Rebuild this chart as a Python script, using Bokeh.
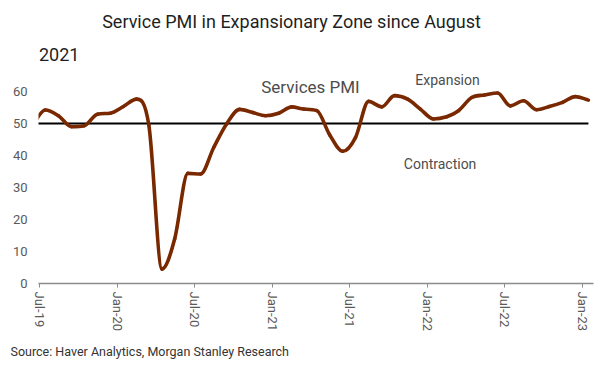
import numpy as np
import pandas as pd
from bokeh.plotting import figure
from bokeh.models import Title, FixedTicker, Range1d, Label
from bokeh.embed import file_html
from bokeh.resources import INLINE

# ---- data ----
months = pd.date_range("2019-06-01", periods=44, freq="MS") + pd.Timedelta(days=14)
pmi = [49.6, 54.2, 52.4, 49.0, 49.3, 52.9, 53.2, 55.3, 57.6, 49.5, 4.5, 14.0,
       34.4, 34.2, 42.5, 50.0, 54.4, 53.4, 52.4, 53.2, 55.2, 54.5, 54.0, 46.5,
       41.3, 45.6, 56.9, 55.2, 58.7, 57.6, 54.5, 51.4, 52.1, 54.0, 58.1, 58.9,
       59.5, 55.5, 57.1, 54.3, 55.3, 56.6, 58.4, 57.3]
threshold = 50
tick_dates = ["2019-07-01", "2020-01-01", "2020-07-01", "2021-01-01",
              "2021-07-01", "2022-01-01", "2022-07-01", "2023-01-01"]
tick_labels = ["Jul-19", "Jan-20", "Jul-20", "Jan-21", "Jul-21", "Jan-22", "Jul-22", "Jan-23"]
y_ticks = [0, 10, 20, 30, 40, 50, 60]

FONT = "Roboto"

x = months.values.astype("datetime64[ms]").astype(np.int64).astype(float)
y = np.array(pmi, dtype=float)

# Smooth (monotone cubic, Fritsch-Carlson) rendering as bezier segments through the points
d = np.diff(y)
m = np.zeros_like(y)
m[0], m[-1] = d[0], d[-1]
for k in range(1, len(y) - 1):
    if d[k - 1] * d[k] > 0:
        m[k] = (d[k - 1] + d[k]) / 2.0
for k in range(len(d)):
    if d[k] == 0:
        m[k] = m[k + 1] = 0.0
        continue
    a, b = m[k] / d[k], m[k + 1] / d[k]
    s = a * a + b * b
    if s > 9:
        t = 3.0 / np.sqrt(s)
        m[k], m[k + 1] = t * a * d[k], t * b * d[k]
x0, y0 = x[:-1], y[:-1]
x1, y1 = x[1:], y[1:]
dx = x1 - x0
cx0, cy0 = x0 + dx / 3.0, y0 + m[:-1] / 3.0
cx1, cy1 = x1 - dx / 3.0, y1 - m[1:] / 3.0

# frame spans the chart area plus the title band above it (no outline/grid, so invisible)
p = figure(width=600, height=373, x_axis_type="datetime",
           x_range=Range1d(pd.Timestamp("2019-06-29"), pd.Timestamp("2023-01-27")),
           y_range=Range1d(0, 87.8),
           output_backend="svg", toolbar_location=None,
           min_border_left=38, min_border_right=7, min_border_top=2, min_border_bottom=90)

p.outline_line_color = None
p.xgrid.visible = False
p.ygrid.visible = False
p.background_fill_color = "white"
p.border_fill_color = "white"
p.title.visible = False

# threshold line and PMI line
p.line(x, [threshold] * len(x), line_color="black", line_width=2.2)
p.bezier(x0=x0, y0=y0, x1=x1, y1=y1, cx0=cx0, cy0=cy0, cx1=cx1, cy1=cy1,
         line_color="#7a2800", line_width=3.6, line_cap="round")

# title lines
p.add_layout(Label(x=pd.Timestamp("2019-11-26"), y=81.97,
                   text="Service PMI in Expansionary Zone since August",
                   text_font=FONT, text_font_size="18px", text_color="#1f1f1f",
                   text_align="left", text_baseline="alphabetic"))
p.add_layout(Label(x=pd.Timestamp("2019-06-30"), y=71.56, text="2021",
                   text_font=FONT, text_font_size="18px", text_color="#1f1f1f",
                   text_align="left", text_baseline="alphabetic"))

# annotations
p.add_layout(Label(x=pd.Timestamp("2020-12-05"), y=61.5, text="Services PMI",
                   text_font=FONT, text_font_size="17px", text_color="#4d4d4d",
                   text_align="left", text_baseline="alphabetic"))
p.add_layout(Label(x=pd.Timestamp("2021-12-03"), y=63.7, text="Expansion",
                   text_font=FONT, text_font_size="14px", text_color="#4d4d4d",
                   text_align="left", text_baseline="alphabetic"))
p.add_layout(Label(x=pd.Timestamp("2021-11-06"), y=37.3, text="Contraction",
                   text_font=FONT, text_font_size="14px", text_color="#4d4d4d",
                   text_align="left", text_baseline="alphabetic"))

# axes
tick_ms = [float(pd.Timestamp(t).value // 10**6) for t in tick_dates]
xa = p.xaxis[0]
xa.ticker = FixedTicker(ticks=tick_ms)
xa.major_label_overrides = {t: lab for t, lab in zip(tick_ms, tick_labels)}
xa.major_label_orientation = "vertical"
xa.major_label_text_font = FONT
xa.major_label_text_font_size = "13px"
xa.major_label_text_color = "#595959"
xa.axis_line_color = "#8c8c8c"
xa.axis_line_width = 1.3
xa.major_tick_line_color = "#8c8c8c"
xa.major_tick_out = 4
xa.major_tick_in = 0
xa.minor_tick_line_color = None
xa.major_label_standoff = 4

ya = p.yaxis[0]
ya.ticker = FixedTicker(ticks=y_ticks)
ya.axis_line_color = None
ya.major_tick_line_color = None
ya.minor_tick_line_color = None
ya.major_tick_out = 0
ya.major_tick_in = 0
ya.major_label_standoff = 11
ya.major_label_text_font = FONT
ya.major_label_text_font_size = "13px"
ya.major_label_text_color = "#595959"

p.add_layout(Title(text="Source: Haver Analytics, Morgan Stanley Research", align="left",
                   offset=-28, standoff=15, text_font=FONT, text_font_size="12.5px",
                   text_font_style="normal", text_color="#333333"), "below")

open("out.html", "w").write(file_html(p, INLINE))
